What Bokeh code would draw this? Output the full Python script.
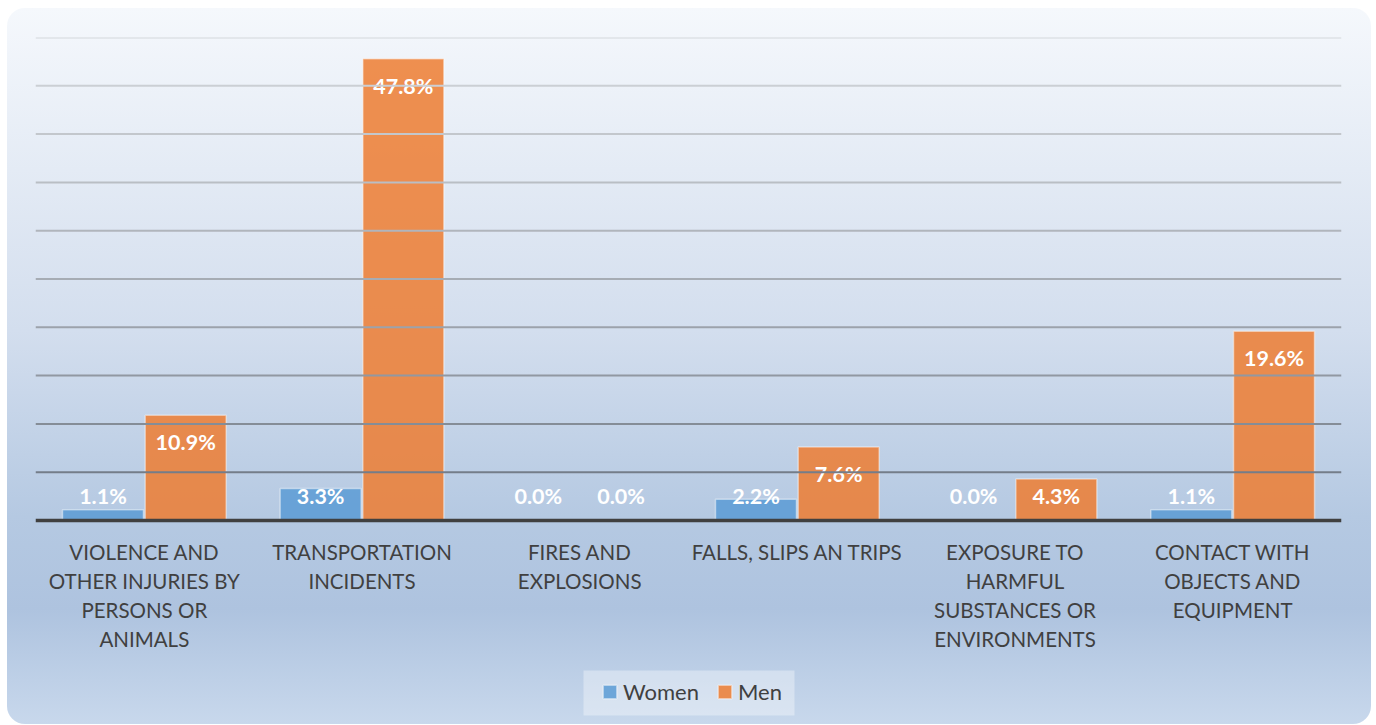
from bokeh.plotting import figure
from bokeh.models import (ColumnDataSource, Range1d, Span, Legend, LegendItem,
                          BoxAnnotation)
from bokeh.transform import dodge
from bokeh.core.properties import value
from bokeh.embed import file_html
from bokeh.resources import INLINE

categories = [
    "VIOLENCE AND OTHER INJURIES BY PERSONS OR ANIMALS",
    "TRANSPORTATION INCIDENTS",
    "FIRES AND EXPLOSIONS",
    "FALLS, SLIPS AN TRIPS",
    "EXPOSURE TO HARMFUL SUBSTANCES OR ENVIRONMENTS",
    "CONTACT WITH OBJECTS AND EQUIPMENT",
]
tick_labels = [
    "VIOLENCE AND\nOTHER INJURIES BY\nPERSONS OR\nANIMALS",
    "TRANSPORTATION\nINCIDENTS",
    "FIRES AND\nEXPLOSIONS",
    "FALLS, SLIPS AN TRIPS",
    "EXPOSURE TO\nHARMFUL\nSUBSTANCES OR\nENVIRONMENTS",
    "CONTACT WITH\nOBJECTS AND\nEQUIPMENT",
]
women = [1.1, 3.3, 0.0, 2.2, 0.0, 1.1]
men = [10.9, 47.8, 0.0, 7.6, 4.3, 19.6]
y_ticks = [0, 5, 10, 15, 20, 25, 30, 35, 40, 45, 50]

Y_MAX = 50
PLOT_H = 483      # pixels from 0 to 50
BELOW = 204       # pixels of frame below the zero line


def label_pos(vals):
    return [max(v - 2.8, 2.55) for v in vals]


src = ColumnDataSource(dict(
    cat=categories,
    women=women,
    men=men,
    w_lbl=[f"{v:.1f}%" for v in women],
    m_lbl=[f"{v:.1f}%" for v in men],
    w_y=label_pos(women),
    m_y=label_pos(men),
))

# category label lines
lx, lt, lo = [], [], []
for c, lab in zip(categories, tick_labels):
    for i, line in enumerate(lab.split("\n")):
        lx.append(c)
        lt.append(line)
        lo.append(31 + 29 * i)
lab_src = ColumnDataSource(dict(x=lx, t=lt, y=[0] * len(lx), off=lo))

p = figure(
    x_range=categories,
    y_range=Range1d(-Y_MAX * BELOW / PLOT_H, Y_MAX),
    width=1364, height=716,
    output_backend="svg", toolbar_location=None,
    x_axis_location=None, y_axis_location=None,
    min_border_left=28, min_border_right=30,
    min_border_top=29, min_border_bottom=0,
    background_fill_color=None, border_fill_color=None,
    outline_line_color=None,
)
p.margin = (8, 0, 0, 7)
p.styles = {
    "border-radius": "18px",
    "overflow": "hidden",
    "background": "linear-gradient(to bottom, #F5F8FC 0%, #D3DEEE 45%, #B5C9E2 71%, #AEC3DF 84%, #C8D8EC 100%)",
}
p.x_range.range_padding = 0
p.xgrid.visible = False
p.ygrid.visible = False

# gradient-coloured gridlines
top_c = (0xD4, 0xD7, 0xDB)
bot_c = (0x74, 0x7D, 0x89)
for t in y_ticks[1:]:
    f = ((t - 5) / 45.0) ** 0.8
    c = tuple(int(round(b + (a - b) * f)) for a, b in zip(top_c, bot_c))
    p.add_layout(Span(location=t, dimension="width",
                      line_color="#%02X%02X%02X" % c, line_width=2))

bw = 0.372
rw = p.vbar(x=dodge("cat", -0.19, range=p.x_range), top="women", bottom=0,
            width=bw, source=src, fill_color="#5B9BD5", fill_alpha=0.85,
            line_color="white", line_alpha=0.45, line_width=1.5)
rm = p.vbar(x=dodge("cat", 0.19, range=p.x_range), top="men", bottom=0,
            width=bw, source=src, fill_color="#ED7D31", fill_alpha=0.85,
            line_color="white", line_alpha=0.45, line_width=1.5)

# baseline (category axis line)
p.add_layout(Span(location=y_ticks[0], dimension="width",
                  line_color="#404040", line_width=3.5))

for off, col_y, col_t in [(-0.19, "w_y", "w_lbl"), (0.19, "m_y", "m_lbl")]:
    p.text(x=dodge("cat", off, range=p.x_range), y=col_y, text=col_t,
           source=src, text_color="white", text_font=value("Lato"),
           text_font_style="bold", text_font_size="21.5px",
           text_align="center", text_baseline="middle")

p.text(x="x", y="y", text="t", y_offset="off", source=lab_src,
       text_color="#404040", text_font=value("Lato"),
       text_font_size="20.5px", text_align="center", text_baseline="middle")

# legend background box (screen units, relative to the frame)
p.add_layout(BoxAnnotation(
    left=548, right=759, bottom=9, top=54,
    left_units="screen", right_units="screen",
    bottom_units="screen", top_units="screen",
    fill_color="white", fill_alpha=0.35, line_color=None, level="overlay",
))

legend = Legend(
    items=[LegendItem(label="Women", renderers=[rw]),
           LegendItem(label="Men", renderers=[rm])],
    orientation="horizontal",
    location=(566, 19),
    background_fill_alpha=0, border_line_color=None,
    label_text_font="Lato", label_text_font_size="22px",
    label_text_color="#404040",
    glyph_width=17, glyph_height=17,
    label_standoff=5, spacing=17, padding=0, margin=0,
)
p.add_layout(legend, "center")

open("out.html", "w").write(file_html(p, INLINE))
